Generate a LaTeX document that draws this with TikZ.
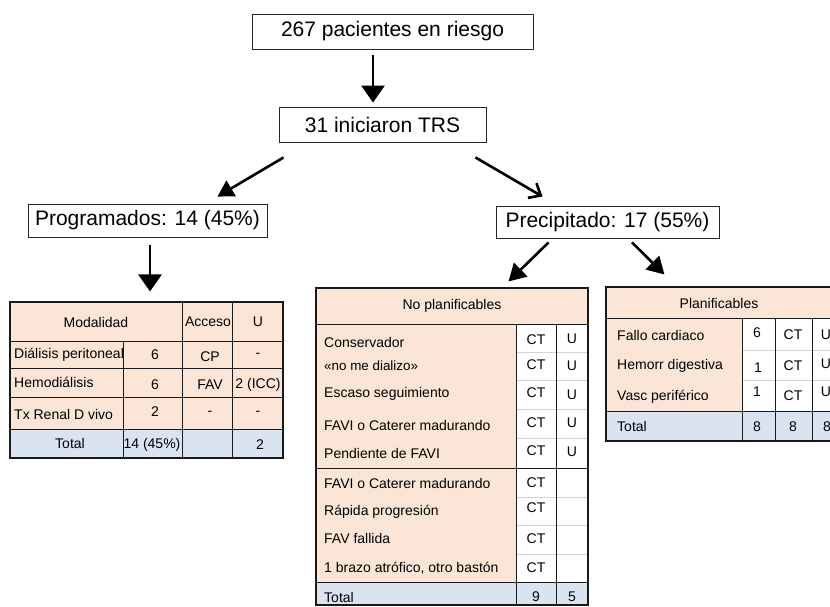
\documentclass[tikz,border=0pt]{standalone}
\usepackage{fontspec}
\setmainfont{Liberation Sans}
\usetikzlibrary{arrows.meta}
\definecolor{peach}{RGB}{251,229,214}
\definecolor{totblue}{RGB}{218,227,240}
\definecolor{lgray}{RGB}{212,212,212}
\newcommand\bigf{\fontsize{21}{25}\selectfont}
\newcommand\tabf{\fontsize{14}{17}\selectfont}
\newcommand\smallf{\fontsize{13.4}{16}\selectfont}
\begin{document}
\begin{tikzpicture}[x=1pt,y=-1pt,
  flow/.style={draw=black!85, line width=0.9pt, inner sep=0pt, font=\bigf},
  arrv/.style={line width=2.8pt, -{Triangle[length=17pt,width=23pt]}},
  arrd/.style={line width=2.6pt, -{Triangle[length=16pt,width=18pt]}},
  arrb/.style={line width=2.6pt, -{Straight Barb[length=10pt,width=17pt,line width=2.6pt]}},
  arrp/.style={line width=2.6pt, -{Triangle[length=17pt,width=19pt]}},
  tabframe/.style={draw=black!90, line width=1.1pt, inner sep=0pt},
  bl/.style={draw=black!90, line width=0.9pt},
  gl/.style={draw=lgray, line width=0.8pt},
  cell/.style={inner sep=0pt, font=\tabf},
  tl/.style={cell, anchor=west}]
\useasboundingbox (0,0) rectangle (830,606);

% ---- flow boxes ----
\node[flow, minimum width=281pt, minimum height=35pt] (top) at (392.5,31.5) {267 pacientes en riesgo};
\node[flow, minimum width=207pt, minimum height=35pt] (trs) at (382.5,124.5) {31 iniciaron TRS};
\node[flow, minimum width=239pt, minimum height=33pt] (prog) at (147.5,220.5) {Programados: 14 (45\%)};
\node[flow, minimum width=223pt, minimum height=32pt] (prec) at (607.5,222) {Precipitado: 17 (55\%)};

% ---- left table (Modalidad) ----
\fill[peach] (10,302) rectangle (283,429);
\fill[totblue] (10,429) rectangle (283,458);
\draw[bl] (10,341) -- (283,341) (10,368) -- (283,368) (10,397) -- (283,397) (10,429) -- (283,429);
\draw[bl] (123,341) -- (123,458) (182,302) -- (182,458) (232,302) -- (232,458);
\node[tabframe, minimum width=273pt, minimum height=156pt] (tabL) at (146.5,380) {};
\node[cell] (lh1) at (96,322) {Modalidad};
\node[cell] (lh2) at (208,322) {Acceso};
\node[cell] (lh3) at (258,322) {U};
\node[tl] (lr1) at (14,355) {Diálisis peritoneal};
\node[cell] (lr1a) at (155,355) {6};
\node[cell] (lr1b) at (210,357) {CP};
\node[cell] (lr1c) at (258,355) {-};
\node[tl] (lr2) at (14,382) {Hemodiálisis};
\node[cell] (lr2a) at (155,385) {6};
\node[cell] (lr2b) at (210,385) {FAV};
\node[cell] (lr2c) at (258,385) {2 (ICC)};
\node[tl] (lr3) at (14,414) {Tx Renal D vivo};
\node[cell] (lr3a) at (155,412) {2};
\node[cell] (lr3b) at (210,413) {-};
\node[cell] (lr3c) at (258,413) {-};
\node[cell] (lr4) at (70,443) {Total};
\node[cell] (lr4a) at (152,445) {14 (45\%)};
\node[cell] (lr4c) at (260,445) {2};

% ---- middle table (No planificables) ----
\fill[peach] (316,288) rectangle (588,324);
\fill[peach] (316,324) rectangle (516,582);
\fill[white] (516,324) rectangle (588,582);
\fill[totblue] (316,582) rectangle (588,605);
\draw[gl] (516,352) -- (588,352) (516,380) -- (588,380) (516,409) -- (588,409) (516,438) -- (588,438)
          (516,497) -- (588,497) (516,525) -- (588,525) (516,554) -- (588,554);
\draw[bl] (316,324) -- (588,324) (316,468) -- (588,468) (316,582) -- (588,582);
\draw[bl] (516,324) -- (516,605) (556,324) -- (556,605);
\node[tabframe, minimum width=272pt, minimum height=317pt] (nop) at (452,446.5) {};
\node[cell] (mh) at (452,306) {No planificables};
\node[tl] (m1) at (324,342) {Conservador};
\node[tl] (m2) at (324,366) {\smallf «no me dializo»};
\node[tl] (m3) at (324,394) {Escaso seguimiento};
\node[tl] (m4) at (324,425) {FAVI o Caterer madurando};
\node[tl] (m5) at (324,453) {Pendiente de FAVI};
\node[tl] (m6) at (324,483) {FAVI o Caterer madurando};
\node[tl] (m7) at (324,512) {Rápida progresión};
\node[tl] (m8) at (324,538) {FAV fallida};
\node[tl] (m9) at (324,568) {1 brazo atrófico, otro bastón};
\node[tl] (m10) at (324,597) {Total};
\node[cell] (m1c) at (536,340) {CT};
\node[cell] (m2c) at (536,365) {CT};
\node[cell] (m3c) at (536,393) {CT};
\node[cell] (m4c) at (536,423) {CT};
\node[cell] (m5c) at (536,451) {CT};
\node[cell] (m6c) at (536,483) {CT};
\node[cell] (m7c) at (536,508) {CT};
\node[cell] (m8c) at (536,539) {CT};
\node[cell] (m9c) at (536,568) {CT};
\node[cell] (m1u) at (572,339) {U};
\node[cell] (m2u) at (572,366) {U};
\node[cell] (m3u) at (572,395) {U};
\node[cell] (m4u) at (572,423) {U};
\node[cell] (m5u) at (572,452) {U};
\node[cell] (m10c) at (536,597) {9};
\node[cell] (m10u) at (572,597) {5};

% ---- right table (Planificables) ----
\fill[peach] (606,287) rectangle (832,318);
\fill[peach] (606,318) rectangle (742,411);
\fill[white] (742,318) rectangle (832,411);
\fill[totblue] (606,411) rectangle (832,441);
\draw[gl] (742,350) -- (832,350) (742,380) -- (832,380);
\draw[bl] (606,318) -- (832,318) (606,411) -- (832,411);
\draw[bl] (742,318) -- (742,441) (775,318) -- (775,441) (812,318) -- (812,441);
\node[tabframe, minimum width=226pt, minimum height=154pt] (pla) at (719,364) {};
\node[cell] (ph) at (719,303) {Planificables};
\node[tl] (p1) at (617,335) {Fallo cardiaco};
\node[tl] (p2) at (617,366) {Hemorr digestiva};
\node[tl] (p3) at (617,397) {Vasc periférico};
\node[tl] (p4) at (617,426) {Total};
\node[cell] (p1n) at (757,333) {6};
\node[cell] (p2n) at (758,368) {1};
\node[cell] (p3n) at (757,392) {1};
\node[cell] (p4n) at (757,427) {8};
\node[cell] (p1c) at (793,335) {CT};
\node[cell] (p2c) at (793,366) {CT};
\node[cell] (p3c) at (793,396) {CT};
\node[cell] (p4c) at (793,427) {8};
\node[cell] (p1u) at (826,335) {U};
\node[cell] (p2u) at (826,364) {U};
\node[cell] (p3u) at (826,392) {U};
\node[cell] (p4u) at (827,427) {8};

% ---- arrows ----
\draw[arrv] ([shift={(-19.5,6)}]top.south) -- ([shift={(-9.5,-4)}]trs.north);
\draw[arrd] ([shift={(5,15)}]trs.south west) -- ([shift={(-50,-7)}]prog.north east);
\draw[arrb] ([shift={(-11,15)}]trs.south east) -- ([shift={(47,-9)}]prec.north west);
\draw[arrv] ([shift={(2.5,8)}]prog.south) -- ([shift={(3.5,-10)}]tabL.north);
\draw[arrp] ([shift={(53,4)}]prec.south west) -- ([shift={(-80,-6)}]nop.north east);
\draw[arrp] ([shift={(24.5,4)}]prec.south) -- ([shift={(59,-12)}]pla.north west);
\end{tikzpicture}
\end{document}
